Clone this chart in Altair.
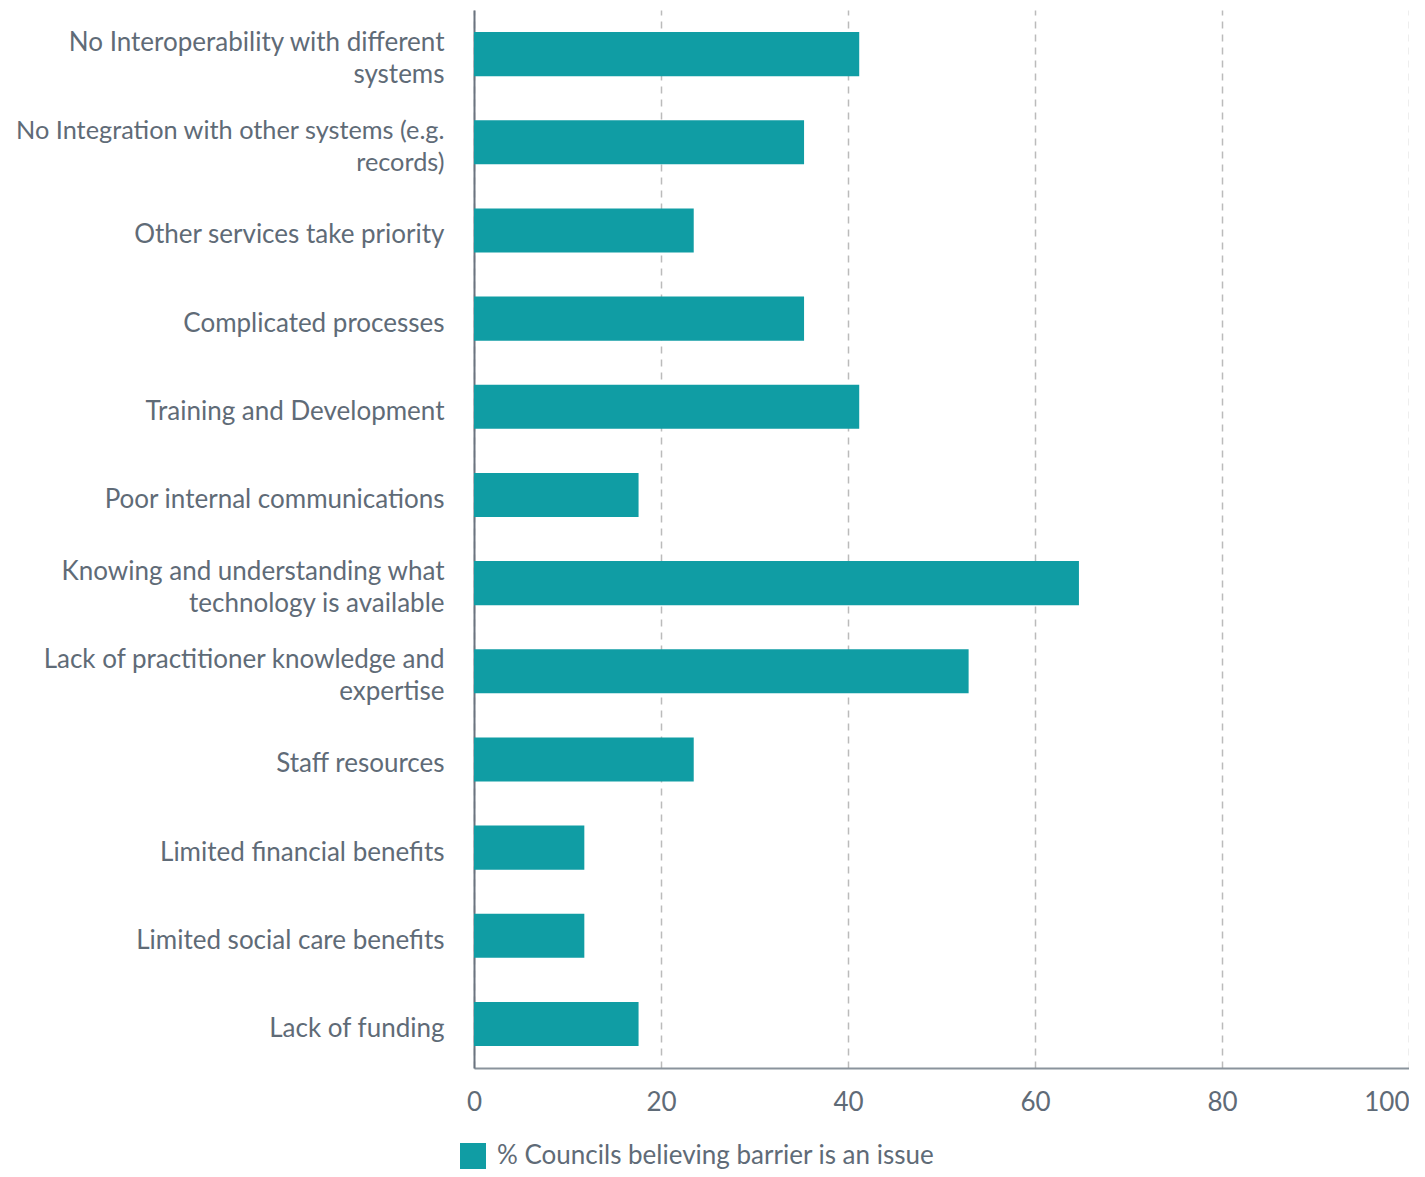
import altair as alt
import pandas as pd

categories = [
    "No Interoperability with different|systems",
    "No Integration with other systems (e.g.|records)",
    "Other services take priority",
    "Complicated processes",
    "Training and Development",
    "Poor internal communications",
    "Knowing and understanding what|technology is available",
    "Lack of practitioner knowledge and|expertise",
    "Staff resources",
    "Limited financial benefits",
    "Limited social care benefits",
    "Lack of funding",
]
values = [41.2, 35.3, 23.5, 35.3, 41.2, 17.6, 64.7, 52.9, 23.5, 11.8, 11.8, 17.6]
series_name = "% Councils believing barrier is an issue"
x_ticks = [0, 20, 40, 60, 80, 100]

df = pd.DataFrame({"barrier": categories, "value": values, "series": series_name})

FONT = "Lato"
TEXT = "#5f6b77"
FS = 26

chart = (
    alt.Chart(df)
    .mark_bar(color="#109DA4")
    .encode(
        y=alt.Y(
            "barrier:N",
            sort=categories,
            scale=alt.Scale(paddingInner=0.5, paddingOuter=0.25),
            axis=alt.Axis(
                title=None,
                labelExpr="split(datum.label, '|')",
                labelFont=FONT,
                labelFontSize=alt.expr("indexof(datum.label, 'Integration') >= 0 ? 25.3 : 26"),
                labelColor=TEXT,
                labelLineHeight=32,
                labelPadding=30,
                labelLimit=500,
                labelOffset=alt.expr("indexof(datum.label, '|') >= 0 ? -11 : 5"),
                ticks=False,
                domainColor="#6b7480",
                domainWidth=2,
                grid=False,
            ),
        ),
        x=alt.X(
            "value:Q",
            scale=alt.Scale(domain=[0, 100], nice=False),
            axis=alt.Axis(
                title=None,
                values=x_ticks,
                labelFont=FONT,
                labelFontSize=FS,
                labelColor=TEXT,
                labelPadding=21,
                labelAlign=alt.expr("datum.value == 100 ? 'right' : 'center'"),
                ticks=False,
                domainColor="#8a939c",
                domainWidth=2,
                grid=True,
                gridColor="#bbbbbb",
                gridWidth=1.5,
                gridDash=[7, 6],
            ),
        ),
        color=alt.Color(
            "series:N",
            scale=alt.Scale(range=["#109DA4"]),
            legend=alt.Legend(
                title=None,
                orient="none",
                legendX=-14,
                legendY=1133,
                symbolType="square",
                symbolSize=676,
                symbolStrokeWidth=0,
                labelFont=FONT,
                labelFontSize=FS,
                labelColor=TEXT,
                labelOffset=11,
                labelLimit=800,
            ),
        ),
    )
    .properties(
        width=935,
        height=1058,
        autosize=alt.AutoSizeParams(type="none"),
        padding={"left": 466, "top": 2, "right": 0, "bottom": 101},
    )
    .configure_view(stroke=None)
    .configure_axis(gridOpacity=1)
)

chart.save("out.html", embed_options={"renderer": "svg", "actions": False})
